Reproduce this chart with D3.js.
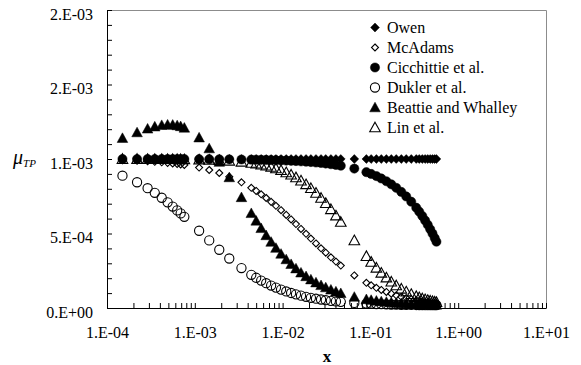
<!DOCTYPE html>
<html><head><meta charset="utf-8">
<script src="https://cdn.jsdelivr.net/npm/d3@7"></script>
</head><body style="margin:0;background:#fff">
<svg id="c" width="581" height="365" style="display:block"></svg>
<script>
// Quality x (shared by all series)
const xValues = [0.00015,0.00022,0.00029,0.00035,0.00042,0.00049,0.00056,0.00063,0.00069,0.00076,
  0.00112,0.00146,0.0019,0.00247,0.0034,0.0044,
  0.005,0.0057,0.0065,0.0074,0.0084,0.0096,0.011,0.0125,0.0142,0.0162,0.0185,0.021,0.024,0.0274,0.031,0.0355,0.0405,0.046,
  0.0656,
  0.09,0.102,0.117,0.133,0.152,0.173,0.197,0.225,0.256,0.292,
  0.333,0.36,0.39,0.42,0.45,0.48,0.51,0.54,0.565];

// Two-phase viscosity values, in units of 1e-3
const owen = [1,1,1,1,1,1,1,1,1,1, 1,1,1,1,1,1, 1,1,1,1,1,1,1,1,1,1,1,1,1,1,1,1,1,1, 1, 1,1,1,1,1,1,1,1,1,1, 1,1,1,1,1,1,1,1,1];
const mcadams = [0.9919,0.9881,0.9844,0.9813,0.9776,0.9740,0.9704,0.9668,0.9637,0.9602,
  0.9424,0.9262,0.9061,0.8813,0.8435,0.8064,
  0.7857,0.7628,0.7382,0.7124,0.6857,0.6563,0.6249,0.5945,0.5635,0.5308,0.4977,0.4660,0.4331,0.4008,0.3716,0.3405,0.3116,0.2849,
  0.2184,
  0.1692,0.1523,0.1354,0.1211,0.1076,0.0958,0.0851,0.0753,0.0668,0.0591,
  0.0522,0.0484,0.0449,0.0418,0.0391,0.0368,0.0347,0.0328,0.0314];
const cicchitti = [0.9999,0.9998,0.9997,0.9997,0.9996,0.9995,0.9995,0.9994,0.9993,0.9993,
  0.9989,0.9986,0.9981,0.9976,0.9967,0.9957,
  0.9951,0.9944,0.9936,0.9927,0.9918,0.9906,0.9892,0.9877,0.9861,0.9841,0.9818,0.9794,0.9764,0.9731,0.9696,0.9651,0.9602,0.9548,
  0.9356,
  0.9116,0.8998,0.8851,0.8694,0.8507,0.8301,0.8065,0.7791,0.7486,0.7133,
  0.6730,0.6465,0.6170,0.5876,0.5581,0.5286,0.4992,0.4697,0.4452];
const dukler = [0.888,0.844,0.804,0.773,0.740,0.709,0.681,0.655,0.635,0.612,
  0.5185,0.4536,0.3909,0.3323,0.2681,0.2229,
  0.2029,0.1839,0.1665,0.1508,0.1368,0.1234,0.1111,0.1008,0.0915,0.0829,0.0752,0.0686,0.0624,0.0570,0.0525,0.0481,0.0444,0.0412,
  0.0340,
  0.0294,0.0280,0.0266,0.0254,0.0243,0.0234,0.0226,0.0219,0.0213,0.0208,
  0.0203,0.0200,0.0198,0.0196,0.0194,0.0192,0.0191,0.0190,0.0189];
const beattie = [1.140,1.178,1.203,1.217,1.227,1.230,1.229,1.225,1.219,1.209,
  1.1433,1.0705,0.9797,0.8762,0.7425,0.6358,
  0.5850,0.5351,0.4873,0.4431,0.4024,0.3629,0.3259,0.2938,0.2645,0.2369,0.2122,0.1907,0.1706,0.1523,0.1375,0.1225,0.1098,0.0988,
  0.0741,
  0.0581,0.0532,0.0481,0.0440,0.0402,0.0371,0.0343,0.0319,0.0298,0.0277,
  0.0260,0.0253,0.0243,0.0236,0.0229,0.0225,0.0218,0.0215,0.0211];
const lin = [0.9998,0.9996,0.9994,0.9992,0.9990,0.9987,0.9985,0.9982,0.9980,0.9977,
  0.9960,0.9942,0.9916,0.9879,0.9813,0.9733,
  0.9683,0.9621,0.9548,0.9463,0.9366,0.9245,0.9101,0.8943,0.8763,0.8548,0.8301,0.8037,0.7725,0.7382,0.7035,0.6624,0.6200,0.5773,
  0.4537,
  0.3479,0.3093,0.2698,0.2360,0.2039,0.1761,0.1512,0.1289,0.1099,0.0931,
  0.0787,0.0712,0.0641,0.0581,0.0531,0.0487,0.0449,0.0416,0.0392];

const seriesNames = ["Owen","McAdams","Cicchittie et al.","Dukler et al.","Beattie and Whalley","Lin et al."];
const seriesMarkers = ["diamondFilled","diamondOpen","circleFilled","circleOpen","triangleFilled","triangleOpen"];
const seriesValues = [owen, mcadams, cicchitti, dukler, beattie, lin];

const xTickValues = [1e-4,1e-3,1e-2,1e-1,1,10];
const xTickLabels = ["1.E-04","1.E-03","1.E-02","1.E-01","1.E+00","1.E+01"];
const yTickValues = [0,0.5,1,1.5,2];
const yTickLabels = ["0.E+00","5.E-04","1.E-03","2.E-03","2.E-03"];

const FONT = "Liberation Serif";
function serif(sel, size){
  return sel.attr("font-family",FONT).attr("font-size",size)
    .style("font-family","'Liberation Serif', 'Times New Roman', serif","important")
    .style("font-size",size+"px","important");
}
const svg = d3.select("#c");
const L = 107, R = 546, T = 10, B = 308;
const x = d3.scaleLog().domain([1e-4,10]).range([L,R]);
const y = d3.scaleLinear().domain([0,2]).range([B,T]);

// plot border (gray)
svg.append("path").attr("d",`M${L+0.5},${T+0.5}H${R+0.5}V${B+0.5}`)
  .attr("fill","none").attr("stroke","#8c8c8c").attr("stroke-width",1);

// minor ticks
const xMinor = [];
for (let e=-4; e<=0; e++) for (let k=1; k<=9; k++) xMinor.push(k*Math.pow(10,e));
xMinor.push(10);
const yMinor = d3.range(0,21).map(i=>i/10);

svg.append("g").attr("transform",`translate(0,${B})`)
  .call(d3.axisBottom(x).tickValues(xMinor).tickSizeInner(-5).tickSizeOuter(0).tickFormat(""));
svg.append("g").attr("transform",`translate(${L},0)`)
  .call(d3.axisLeft(y).tickValues(yMinor).tickSizeInner(-5).tickSizeOuter(0).tickFormat(""));
svg.selectAll(".domain, .tick line").attr("stroke","#000");

// tick labels
serif(svg.append("g").selectAll("text").data(xTickValues).join("text")
  .attr("x",d=>x(d)+0.5).attr("y",338).attr("text-anchor","middle"),16)
  .text((d,i)=>xTickLabels[i]);
serif(svg.append("g").selectAll("text").data(yTickValues).join("text")
  .attr("x",93).attr("y",d=>y(d)+9.5).attr("text-anchor","end"),16)
  .text((d,i)=>yTickLabels[i]);

// axis titles
serif(svg.append("text").attr("x",(L+R)/2+0.5).attr("y",362).attr("text-anchor","middle"),17)
  .attr("font-weight","bold").style("font-weight","bold").text("x");
const yt = serif(svg.append("text").attr("x",13).attr("y",163.5),20)
  .attr("font-style","italic").style("font-style","italic");
yt.append("tspan").text("μ");
yt.append("tspan").attr("font-size",11).style("font-size","11px","important").attr("dy",3.5).text("TP");

// markers
function markerPath(type){
  switch(type){
    case "diamondFilled": {const s=4.4; return `M0,${-s}L${s},0L0,${s}L${-s},0Z`;}
    case "diamondOpen": {const s=3.5; return `M0,${-s}L${s},0L0,${s}L${-s},0Z`;}
    case "circleFilled": {const r=4.6; return `M${r},0A${r},${r},0,1,1,${-r},0A${r},${r},0,1,1,${r},0Z`;}
    case "circleOpen": {const r=4.6; return `M${r},0A${r},${r},0,1,1,${-r},0A${r},${r},0,1,1,${r},0Z`;}
    case "triangleFilled": return "M0,-5.3L5.3,4.3L-5.3,4.3Z";
    case "triangleOpen": return "M0,-5.3L5.3,4.3L-5.3,4.3Z";
  }
}
function styleMarker(sel, type){
  if (type.endsWith("Filled")) sel.attr("fill","#000").attr("stroke","#000").attr("stroke-width",0.5);
  else sel.attr("fill","none").attr("stroke","#000").attr("stroke-width",1.1);
}

seriesValues.forEach((vals, si) => {
  const type = seriesMarkers[si];
  const g = svg.append("g");
  const p = g.selectAll("path").data(xValues.map((xv,i)=>({x:xv,y:vals[i]}))).join("path")
    .attr("d",markerPath(type))
    .attr("transform",d=>`translate(${x(d.x)},${y(d.y)})`);
  styleMarker(p, type);
});

// legend
const lg = svg.append("g");
seriesNames.forEach((name,i)=>{
  const cy = 27.5 + i*20;
  const p = lg.append("path").attr("d",markerPath(seriesMarkers[i])).attr("transform",`translate(375,${cy})`);
  styleMarker(p, seriesMarkers[i]);
  serif(lg.append("text").attr("x",387).attr("y",cy+5.5),16).text(name);
});
</script>
</body></html>
